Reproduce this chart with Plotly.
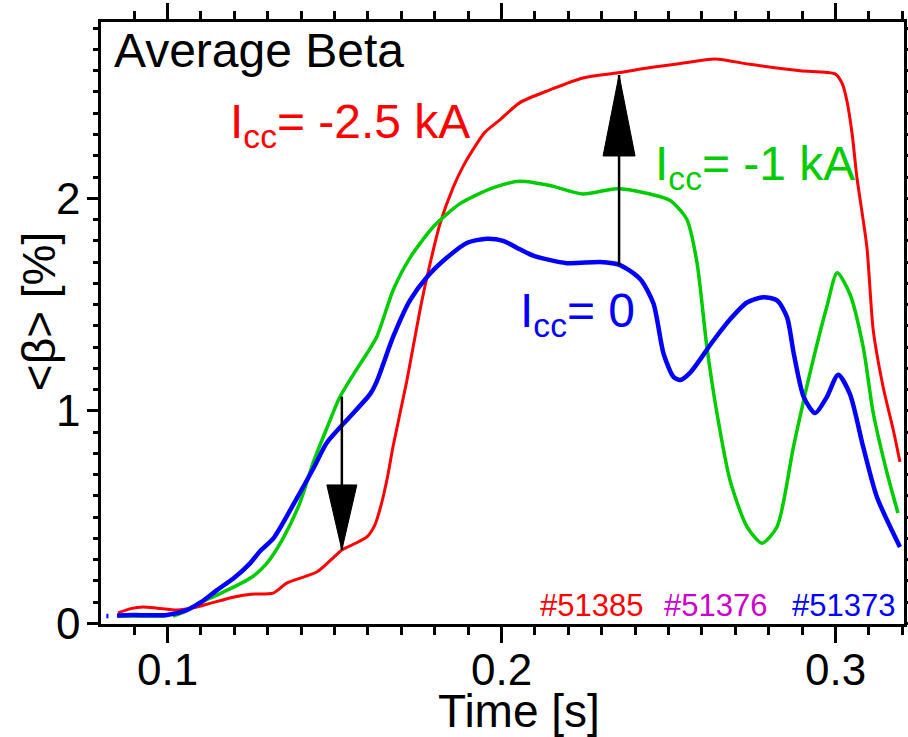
import plotly.graph_objects as go

# ---------------- data ----------------
t_red = [0.0852, 0.0890, 0.0927, 0.0970, 0.1030, 0.1080, 0.1130, 0.1200, 0.1250, 0.1316,
         0.1357, 0.1400, 0.1447, 0.1490, 0.1522, 0.1560, 0.1597, 0.1620, 0.1640, 0.1660,
         0.1675, 0.1717, 0.1756, 0.1777, 0.1816, 0.1855, 0.1885, 0.1915, 0.1950, 0.1996,
         0.2055, 0.2145, 0.2244, 0.2349, 0.2445, 0.2540, 0.2639, 0.2744, 0.2894, 0.2999,
         0.3020, 0.3034, 0.3050, 0.3064, 0.3094, 0.3113, 0.3143, 0.3173, 0.3193]
v_red = [0.050, 0.070, 0.078, 0.072, 0.063, 0.075, 0.096, 0.125, 0.138, 0.143,
         0.190, 0.215, 0.242, 0.300, 0.346, 0.375, 0.407, 0.460, 0.560, 0.700,
         0.830, 1.145, 1.474, 1.630, 1.880, 2.050, 2.150, 2.230, 2.310, 2.370,
         2.450, 2.510, 2.566, 2.590, 2.615, 2.635, 2.655, 2.630, 2.600, 2.585,
         2.540, 2.460, 2.300, 2.100, 1.770, 1.380, 1.110, 0.910, 0.760]

t_green = [0.0849, 0.0993, None, 0.1016, 0.1050, 0.1097, 0.1150, 0.1196, 0.1250, 0.1296,
           0.1346, 0.1397, 0.1437, 0.1480, 0.1516, 0.1560, 0.1597, 0.1627, 0.1676, 0.1726,
           0.1796, 0.1876, 0.1976, 0.2055, 0.2145, 0.2244, 0.2344, 0.2445, 0.2505, 0.2555,
           0.2585, 0.2615, 0.2645, 0.2684, 0.2735, 0.2780, 0.2825, 0.2874, 0.2924, 0.2974,
           0.3005, 0.3043, 0.3083, 0.3113, 0.3154, 0.3187]
v_green = [0.035, 0.035, None, 0.035, 0.055, 0.097, 0.135, 0.170, 0.215, 0.280,
           0.400, 0.570, 0.760, 0.930, 1.065, 1.180, 1.270, 1.350, 1.570, 1.720,
           1.866, 1.975, 2.050, 2.080, 2.060, 2.020, 2.045, 2.020, 1.990, 1.900,
           1.700, 1.300, 0.990, 0.675, 0.455, 0.378, 0.455, 0.830, 1.180, 1.490,
           1.650, 1.550, 1.300, 0.990, 0.710, 0.520]

t_blue = [0.0817, 0.0823, None, 0.0849, 0.0897, 0.0998, 0.1058, 0.1100, 0.1148, 0.1200,
          0.1247, 0.1277, 0.1317, 0.1377, 0.1437, 0.1477, 0.1537, 0.1607, 0.1627, 0.1676,
          0.1726, 0.1777, 0.1836, 0.1896, 0.1956, 0.2005, 0.2055, 0.2095, 0.2195, 0.2295,
          0.2355, 0.2415, 0.2455, 0.2485, 0.2515, 0.2535, 0.2565, 0.2634, 0.2684, 0.2735,
          0.2784, 0.2825, 0.2855, 0.2875, 0.2905, 0.2939, 0.2974, 0.3008, 0.3043, 0.3083,
          0.3124, 0.3193]
v_blue = [0.035, 0.035, None, 0.038, 0.040, 0.040, 0.063, 0.100, 0.157, 0.215,
          0.283, 0.340, 0.400, 0.560, 0.730, 0.850, 0.957, 1.080, 1.140, 1.350,
          1.520, 1.630, 1.720, 1.790, 1.810, 1.800, 1.760, 1.730, 1.695, 1.700,
          1.686, 1.620, 1.505, 1.270, 1.160, 1.145, 1.180, 1.330, 1.430, 1.510,
          1.535, 1.520, 1.440, 1.270, 1.065, 0.990, 1.065, 1.170, 1.080, 0.830,
          0.595, 0.360]

# arrows: time, start value, tip value
arrow_t = [0.1522, 0.2352]
arrow_from = [1.067, 1.686]
arrow_to = [0.346, 2.580]

x_tickvals = [0.1, 0.15, 0.2, 0.25, 0.3]
x_ticktext = ["0.1", "", "0.2", "", "0.3"]
y_tickvals = [0, 0.5, 1, 1.5, 2, 2.5]
y_ticktext = ["0", "", "1", "", "2", ""]

shot_labels = ["#51385", "#51376", "#51373"]
shot_x = [0.2109, 0.2481, 0.2864]

RED = "#ff0000"
GREEN = "#00cc00"
BLUE = "#0000ff"
MAGENTA = "#cc00cc"
shot_colors = [RED, MAGENTA, BLUE]
FONT = "Liberation Sans, Arial, sans-serif"

fig = go.Figure()
fig.add_trace(go.Scatter(x=t_red, y=v_red, mode="lines", connectgaps=False,
                         line=dict(color=RED, width=3, shape="spline", smoothing=0.7)))
fig.add_trace(go.Scatter(x=t_green, y=v_green, mode="lines", connectgaps=False,
                         line=dict(color=GREEN, width=3.5, shape="spline", smoothing=0.7)))
fig.add_trace(go.Scatter(x=t_blue, y=v_blue, mode="lines", connectgaps=False,
                         line=dict(color=BLUE, width=4.5, shape="spline", smoothing=0.7)))

# arrows
head_paths = ["M0,0 L-15,65 L15,65 Z", "M0,0 L-16,-81 L16,-81 Z"]
for tx, v0, v1, hp in zip(arrow_t, arrow_from, arrow_to, head_paths):
    fig.add_shape(type="line", xref="x", yref="y", x0=tx, x1=tx, y0=v0, y1=v1,
                  line=dict(color="black", width=2.5))
    fig.add_shape(type="path", xref="x", yref="y", xsizemode="pixel", ysizemode="pixel",
                  xanchor=tx, yanchor=v1, path=hp, fillcolor="black",
                  line=dict(color="black", width=1))

def ann(text, x, y, color, size, xanchor="left", yanchor="middle", xref="x", yref="y", angle=0):
    fig.add_annotation(text=text, x=x, y=y, xref=xref, yref=yref, showarrow=False,
                       xanchor=xanchor, yanchor=yanchor, textangle=angle,
                       font=dict(family=FONT, size=size, color=color))

# tick labels (drawn as annotations for exact placement)
for tv, tt in zip(x_tickvals, x_ticktext):
    if tt:
        ann(tt, tv, -0.0764, "black", 44, xanchor="center", xref="x", yref="paper")
for tv, tt in zip(y_tickvals, y_ticktext):
    if tt:
        ann(tt, -0.0237, tv, "black", 44, xanchor="right", xref="paper", yref="y")

ann("Average Beta", 0.0834, 2.693, "black", 48)
ann("I<sub>cc</sub>= -2.5 kA", 0.1181, 2.345, RED, 48)
ann("I<sub>cc</sub>= -1 kA", 0.2454, 2.147, GREEN, 48)
ann("I<sub>cc</sub>= 0", 0.2049, 1.456, BLUE, 48)
for lbl, sx, col in zip(shot_labels, shot_x, shot_colors):
    ann(lbl, sx, 0.083, col, 31)
ann("Time [s]", 0.520, -0.145, "black", 46, xanchor="center", xref="paper", yref="paper")
ann("&lt;β&gt; [%]", -0.0772, 0.518, "black", 46, xanchor="center", xref="paper", yref="paper", angle=-90)

axis_common = dict(showline=True, linecolor="black", linewidth=3, mirror="ticks",
                   ticks="outside", tickcolor="black", tickwidth=2.5,
                   showgrid=False, zeroline=False, automargin=False,
                   showticklabels=False)

fig.update_layout(
    width=908, height=737,
    margin=dict(l=101, r=4, t=22, b=113, pad=0),
    paper_bgcolor="white", plot_bgcolor="white",
    showlegend=False,
    xaxis=dict(range=[0.08009, 0.32051], tickmode="array", tickvals=x_tickvals,
               ticktext=x_ticktext, ticklen=16,
               minor=dict(tickmode="linear", tick0=0, dtick=0.01, ticks="outside",
                          ticklen=8, tickwidth=2.5, tickcolor="black"),
               **axis_common),
    yaxis=dict(range=[-0.00235, 2.8292], tickmode="array", tickvals=y_tickvals,
               ticktext=y_ticktext, ticklen=11,
               minor=dict(tickmode="linear", tick0=0, dtick=0.1, ticks="outside",
                          ticklen=5, tickwidth=2.5, tickcolor="black"),
               **axis_common),
)

fig.write_html("out.html")
